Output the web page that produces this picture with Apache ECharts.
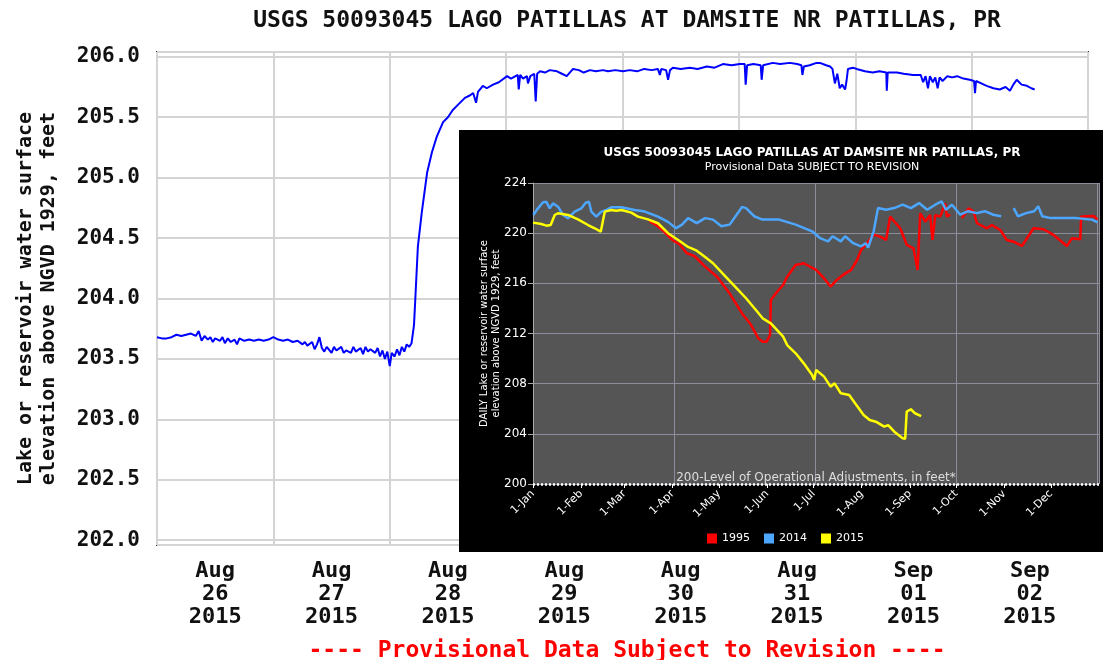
<!DOCTYPE html>
<html><head><meta charset="utf-8">
<script src="https://cdn.jsdelivr.net/npm/echarts@6/dist/echarts.min.js"></script>
<style>html,body{margin:0;padding:0;background:#fff}#c{width:1103px;height:660px}</style>
</head><body><div id="c"></div>
<script>
// ---------- main chart data ----------
const mainTitle = 'USGS 50093045 LAGO PATILLAS AT DAMSITE NR PATILLAS, PR';
const mainYName = 'Lake or reservoir water surface\nelevation above NGVD 1929, feet';
const footerText = '---- Provisional Data Subject to Revision ----';
const dayLabels = ['Aug\n26\n2015','Aug\n27\n2015','Aug\n28\n2015','Aug\n29\n2015','Aug\n30\n2015','Aug\n31\n2015','Sep\n01\n2015','Sep\n02\n2015'];
const yTicks = [202.0, 202.5, 203.0, 203.5, 204.0, 204.5, 205.0, 205.5, 206.0];
// [hours since Aug 26 2015 00:00, lake level ft]
const lakeLevel = [[0,203.68],[1,203.67],[2,203.67],[3,203.68],[4,203.70],[5,203.69],[6,203.70],[7,203.71],[8,203.69],[8.6,203.73],[9.2,203.65],[9.8,203.69],[10.5,203.66],[11,203.68],[11.5,203.64],[12,203.67],[13,203.65],[13.5,203.68],[14,203.63],[14.6,203.67],[15.2,203.64],[16,203.66],[16.5,203.62],[17,203.67],[18,203.65],[19,203.66],[20,203.65],[21,203.66],[22,203.65],[23,203.66],[24,203.68],[25,203.66],[26,203.65],[27,203.66],[28,203.64],[29,203.65],[30,203.62],[30.5,203.64],[31,203.61],[32,203.64],[32.5,203.58],[33,203.62],[33.5,203.68],[34,203.59],[34.5,203.56],[35,203.60],[36,203.55],[36.5,203.60],[37,203.57],[38,203.60],[38.5,203.55],[39,203.57],[40,203.55],[40.5,203.60],[41,203.56],[42,203.59],[42.5,203.54],[43,203.60],[43.5,203.56],[44,203.58],[45,203.55],[45.5,203.59],[46,203.52],[46.5,203.57],[47,203.50],[47.5,203.56],[48,203.44],[48.4,203.55],[49,203.52],[49.5,203.58],[50,203.53],[50.5,203.60],[51,203.56],[51.5,203.62],[52,203.60],[52.5,203.63],[52.8,203.62],[53,203.78],[53.3,204.02],[53.8,204.43],[54.6,204.71],[55.7,205.04],[56.7,205.21],[57.7,205.34],[59,205.46],[60,205.50],[61,205.56],[62,205.60],[63.5,205.66],[64.5,205.68],[65.2,205.70],[65.8,205.62],[66.2,205.71],[67.2,205.76],[68,205.74],[69.3,205.77],[70.5,205.79],[72.2,205.84],[73,205.82],[74.4,205.85],[74.6,205.73],[74.9,205.85],[75.5,205.82],[76.3,205.84],[76.5,205.78],[77,205.84],[77.8,205.86],[78.1,205.63],[78.4,205.86],[79,205.88],[80,205.87],[81,205.89],[82.5,205.88],[83.5,205.86],[84.5,205.84],[85.8,205.90],[87,205.89],[88,205.87],[89.3,205.89],[90.5,205.88],[92,205.89],[93,205.88],[94.5,205.89],[96.1,205.88],[97.5,205.89],[99,205.88],[100.5,205.90],[102,205.89],[103.3,205.90],[103.7,205.85],[104,205.90],[105,205.89],[105.4,205.81],[105.8,205.89],[106.4,205.91],[108,205.90],[109.9,205.91],[111.5,205.90],[113.4,205.92],[115,205.91],[116.7,205.94],[118.5,205.93],[120.2,205.94],[121.2,205.94],[121.4,205.77],[121.7,205.93],[123,205.94],[124.5,205.93],[124.7,205.81],[125,205.93],[127,205.95],[128.5,205.94],[130.5,205.95],[132,205.94],[132.9,205.93],[133.1,205.85],[133.4,205.92],[134.6,205.93],[136,205.95],[136.7,205.95],[138,205.93],[138.8,205.92],[139.3,205.90],[139.8,205.78],[140.3,205.86],[140.8,205.74],[141.3,205.77],[141.9,205.73],[142.2,205.80],[142.5,205.90],[143.5,205.91],[144.3,205.90],[146,205.88],[147.6,205.87],[149,205.88],[150.4,205.87],[150.5,205.72],[150.7,205.87],[152.6,205.87],[154,205.86],[155.9,205.85],[157.5,205.85],[158,205.79],[158.5,205.84],[159,205.74],[159.4,205.84],[160,205.79],[160.5,205.83],[161,205.74],[161.4,205.83],[162,205.80],[163,205.84],[164,205.83],[165,205.84],[166.3,205.82],[167.6,205.81],[168.5,205.80],[168.7,205.70],[168.9,205.80],[170,205.78],[171.1,205.76],[172.5,205.74],[173.8,205.73],[175,205.75],[175.9,205.72],[176.6,205.77],[177.3,205.81],[178.3,205.77],[179.4,205.76],[180.3,205.74],[181,205.73]];

// ---------- inset chart data ----------
const insetTitle = 'USGS 50093045 LAGO PATILLAS AT DAMSITE NR PATILLAS, PR';
const insetSubtitle = 'Provisional Data SUBJECT TO REVISION';
const insetYName = 'DAILY Lake or reservoir water surface\nelevation above NGVD 1929, feet';
const operLabel = '200-Level of Operational Adjustments, in feet*';
const insetMonths = ['1-Jan','1-Feb','1-Mar','1-Apr','1-May','1-Jun','1-Jul','1-Aug','1-Sep','1-Oct','1-Nov','1-Dec'];
const monthStartDays = [0,31,59,90,120,151,181,212,243,273,304,334];
const insetYears = ['1995','2014','2015'];
// [day of year (0 = 1-Jan), daily level ft]
const level1995 = [[75,220.95],[79,220.68],[84.4,220.15],[89.7,219.48],[94.8,219.08],[99,218.42],[104.3,218.16],[111,217.33],[118.7,216.53],[126.8,215.2],[134.8,213.6],[140,212.8],[145.4,211.6],[148.1,211.35],[150.7,211.35],[152.9,211.9],[153.4,214.67],[157.4,215.33],[161.3,215.87],[163.9,216.53],[169.4,217.46],[174.6,217.6],[182.6,217.07],[187.7,216.4],[191.9,215.74],[195.9,216.27],[199.9,216.67],[205.2,217.07],[209,217.86],[211.6,218.66],[214.5,219.08],[219.7,219.88],[223.9,219.72],[227.7,219.46],[230.3,221.32],[236.8,220.39],[241.1,219.06],[245.4,218.79],[248,217.07],[249.7,221.59],[252.9,220.92],[256.1,221.45],[257.6,219.46],[259.4,221.45],[262.6,221.32],[265.8,222.38],[266.9,221.32],[269,221.5],[272,'-'],[276.6,221.2],[280.8,221.98],[284.1,221.72],[286.3,220.79],[292.7,220.39],[295.9,220.65],[301.3,220.25],[305.6,219.46],[309.9,219.32],[315.3,218.98],[322.8,220.39],[329.2,220.31],[335.7,219.86],[344.3,218.98],[347.5,219.59],[352.9,219.51],[353.5,221.32],[361.5,221.37],[364,221.1]];
const level2014 = [[0.2,221.45],[3.2,221.98],[6.5,222.46],[8.6,222.5],[10.8,221.98],[12.9,222.38],[16.1,222.11],[19.4,221.45],[22.6,221.19],[26.9,221.72],[31.2,221.98],[34,222.43],[36.1,222.5],[37.6,221.72],[40.8,221.32],[44.1,221.72],[47.3,221.85],[50.5,222.06],[57,222.06],[65.6,221.85],[72.1,221.72],[80.6,221.32],[87,220.9],[92.3,220.4],[96.1,220.68],[100,221.2],[105.6,220.8],[111,221.2],[116.1,221.08],[121.5,220.55],[126.8,220.68],[132.1,221.6],[134.8,222.1],[137.4,222.0],[142.6,221.35],[148,221.08],[158.7,221.08],[169.4,220.68],[180,220.15],[185.2,219.6],[190.3,219.35],[193.2,219.75],[198.5,219.35],[201.3,219.75],[206.5,219.2],[211.6,218.95],[214.5,219.2],[216.1,218.85],[219.7,220.15],[222.5,222.0],[227.7,221.87],[232.9,222.0],[238.4,222.27],[243.7,222.0],[249,222.4],[254.2,221.87],[259.4,222.27],[263.5,222.54],[266.3,221.87],[270.2,222.27],[275.5,221.47],[280.6,221.75],[286.1,221.6],[291.4,221.75],[296.8,221.47],[301.9,221.35],[305,'-'],[310,222.0],[312.7,221.35],[318,221.6],[323.2,221.75],[325.8,222.14],[328.4,221.35],[333.9,221.2],[339.2,221.2],[349.7,221.2],[360.5,221.08],[364,220.87]];
const level2015 = [[0,220.84],[5.4,220.73],[8.6,220.6],[11.4,220.65],[14,221.45],[16.1,221.59],[22.6,221.45],[29,221.1],[35.5,220.65],[39.8,220.39],[43.7,220.12],[46.3,221.72],[50.5,221.85],[53.7,221.79],[57,221.85],[63.4,221.64],[67.7,221.32],[74.2,221.1],[80.6,220.79],[87.1,220.0],[94.8,219.35],[100,218.9],[105.6,218.6],[111,218.1],[116.1,217.6],[124.2,216.53],[132.3,215.47],[137.4,214.81],[142.8,214.01],[148.1,213.21],[153.4,212.81],[161.3,211.75],[163.9,211.08],[169.4,210.42],[174.6,209.62],[180,208.69],[181.3,208.3],[182.6,209.09],[187.7,208.56],[191.9,207.76],[194.5,208.03],[198.5,207.23],[203.9,207.1],[207.7,206.44],[213.2,205.5],[217.1,205.1],[221.1,204.97],[226.5,204.57],[229,204.7],[233,204.17],[238.4,203.64],[240,203.6],[241,205.77],[243.7,205.96],[246.3,205.64],[250.3,205.42]];

const insetColors = ['#ff0000', '#4da6ff', '#ffff00'];
const insetData = [level1995, level2014, level2015];

const mono = 'DejaVu Sans Mono';
const sans = 'DejaVu Sans';
const chart = echarts.init(document.getElementById('c'), null, {renderer: 'canvas'});

const insetSeries = insetYears.map((name, i) => ({
  name, type: 'line', xAxisIndex: 3, yAxisIndex: 1, data: insetData[i],
  showSymbol: false, symbol: 'none', z: 13, connectNulls: false,
  lineStyle: {color: insetColors[i], width: 2.5}, itemStyle: {color: insetColors[i]}
}));
insetSeries[2].markLine = {
  silent: true, symbol: 'none', z: 14, animation: false,
  data: [{yAxis: 200}],
  lineStyle: {color: '#ffffff', type: [2, 2], width: 2.5},
  label: {show: true, position: 'insideMiddleTop', formatter: operLabel, color: '#dddddd', fontSize: 12, fontFamily: sans, distance: 0}
};

chart.setOption({
  animation: false,
  backgroundColor: '#ffffff',
  title: [
    {text: mainTitle, left: 622, top: 5, textAlign: 'center',
     textStyle: {fontFamily: mono, fontWeight: 'bold', fontSize: 23, color: '#111'}},
    {text: footerText, left: 622, top: 635, textAlign: 'center',
     textStyle: {fontFamily: mono, fontWeight: 'bold', fontSize: 23, color: '#ff0000'}},
    {text: insetTitle, subtext: insetSubtitle, left: 807, top: 142, textAlign: 'center', itemGap: 3, z: 12,
     textStyle: {fontFamily: sans, fontWeight: 'bold', fontSize: 12, color: '#ffffff'},
     subtextStyle: {fontFamily: sans, fontSize: 11, color: '#ffffff'}}
  ],
  graphic: [
    {type: 'rect', shape: {x: 459, y: 130, width: 644, height: 422}, style: {fill: '#000000'}, z: 10, silent: true}
  ],
  legend: {
    data: insetYears, left: 702, top: 528, itemWidth: 10, itemHeight: 10, itemGap: 14, icon: 'rect', z: 12,
    textStyle: {color: '#ffffff', fontSize: 11, fontFamily: sans}
  },
  grid: [
    {left: 157, right: 15, top: 52, bottom: 115, outerBoundsMode: 'none', containLabel: false,
     show: true, backgroundColor: '#ffffff', borderColor: '#333', borderWidth: 2},
    {left: 533, right: 4, top: 183, bottom: 176, outerBoundsMode: 'none', containLabel: false,
     show: true, backgroundColor: '#555555', borderWidth: 0, z: 11}
  ],
  xAxis: [
    {type: 'value', gridIndex: 0, min: 0, max: 192, interval: 24, position: 'bottom',
     axisLine: {show: false}, axisTick: {show: false}, axisLabel: {show: false},
     splitLine: {show: true, lineStyle: {color: '#d4d4d4', width: 2}}},
    {type: 'category', gridIndex: 0, data: dayLabels, boundaryGap: true, position: 'bottom',
     axisLine: {show: false}, axisTick: {show: false}, splitLine: {show: false},
     axisLabel: {interval: 0, margin: 15, fontFamily: mono, fontWeight: 'bold', fontSize: 22, lineHeight: 23, color: '#111'}},
    {type: 'value', gridIndex: 1, min: 0, max: 365, interval: 91, position: 'bottom', z: 12,
     axisLine: {show: false}, axisTick: {show: false}, axisLabel: {show: false},
     splitLine: {show: true, lineStyle: {color: '#8d8d9d', width: 1}}},
    {type: 'value', gridIndex: 1, min: 0, max: 365, position: 'bottom', z: 12,
     axisLine: {show: false}, splitLine: {show: false},
     axisTick: {show: true, customValues: monthStartDays, length: 4, lineStyle: {color: '#ffffff'}},
     axisLabel: {customValues: monthStartDays, rotate: 45, margin: 8, color: '#ffffff', fontSize: 11, fontFamily: sans,
       formatter: v => insetMonths[monthStartDays.indexOf(v)]}}
  ],
  yAxis: [
    {type: 'value', gridIndex: 0, min: 201.96, max: 206.04, splitNumber: 8,
     axisLine: {show: false}, axisTick: {show: false},
     axisLabel: {customValues: yTicks, formatter: v => v.toFixed(1), margin: 17, fontFamily: mono, fontWeight: 'bold', fontSize: 21, color: '#111'},
     splitLine: {show: true, lineStyle: {color: '#d4d4d4', width: 2}},
     name: mainYName, nameLocation: 'middle', nameRotate: 90, nameGap: 97, nameMoveOverlap: false,
     nameTextStyle: {fontFamily: mono, fontWeight: 'bold', fontSize: 20, lineHeight: 23, color: '#111'}},
    {type: 'value', gridIndex: 1, min: 200, max: 224, interval: 4, z: 12,
     axisLine: {show: true, lineStyle: {color: '#aaaaaa'}},
     axisTick: {show: true, length: 5, lineStyle: {color: '#aaaaaa'}},
     axisLabel: {color: '#ffffff', fontSize: 12, fontFamily: sans, margin: 6},
     splitLine: {show: true, lineStyle: {color: '#8d8d9d', width: 1}},
     name: insetYName, nameLocation: 'middle', nameRotate: 90, nameGap: 31, nameMoveOverlap: false,
     nameTextStyle: {color: '#ffffff', fontSize: 10, lineHeight: 12, fontFamily: sans}}
  ],
  series: [
    {name: 'level', type: 'line', xAxisIndex: 0, yAxisIndex: 0, data: lakeLevel, showSymbol: false, symbol: 'none',
     lineStyle: {color: '#0000ff', width: 2}, itemStyle: {color: '#0000ff'}, z: 2}
  ].concat(insetSeries)
});
</script>
</body></html>
